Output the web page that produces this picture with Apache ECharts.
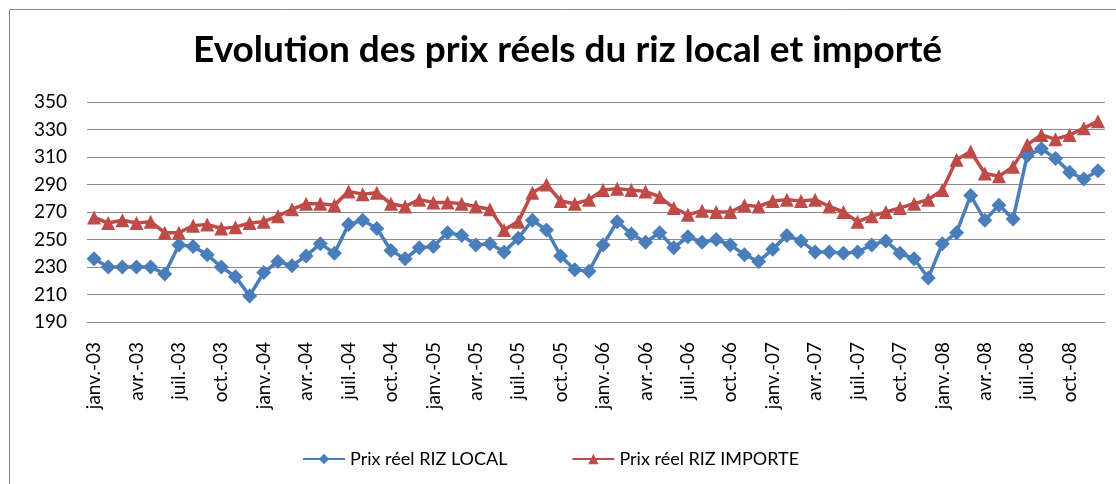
<!DOCTYPE html>
<html>
<head>
<meta charset="utf-8">
<title>Evolution des prix réels du riz</title>
<script src="https://cdn.jsdelivr.net/npm/echarts@6/dist/echarts.min.js"></script>
<style>
    html, body { margin: 0; padding: 0; background: #fff; }
    #chart { width: 1116px; height: 484px; }
</style>
</head>
<body>
<div id="chart"></div>
<script>
    // mois et années de l'axe des abscisses
    var monthNames = ["janv.", "févr.", "mars", "avr.", "mai", "juin", "juil.", "août", "sept.", "oct.", "nov.", "déc."];
    var yearSuffixes = ["03", "04", "05", "06", "07", "08"];

    // prix réels
    var prixLocal = [
        236, 230, 230, 230, 230, 225, 246, 245, 239, 230, 223, 209,
        226, 234, 231, 238, 247, 240, 261, 264, 258, 242, 236, 244,
        245, 255, 253, 246, 247, 241, 251, 264, 257, 238, 228, 227,
        246, 263, 254, 248, 255, 244, 252, 248, 250, 246, 239, 234,
        243, 253, 249, 241, 241, 240, 241, 246, 249, 240, 236, 222,
        247, 255, 282, 264, 275, 265, 311, 316, 309, 299, 294, 300
    ];
    var prixImporte = [
        266, 262, 264, 262, 263, 255, 255, 260, 261, 258, 259, 262,
        263, 267, 272, 276, 276, 275, 285, 283, 284, 276, 274, 279,
        277, 277, 276, 274, 272, 257, 263, 284, 290, 278, 276, 279,
        286, 287, 286, 285, 281, 273, 268, 271, 270, 270, 275, 274,
        278, 279, 278, 279, 274, 270, 263, 267, 270, 273, 276, 279,
        286, 308, 314, 298, 296, 303, 319, 326, 323, 326, 331, 336
    ];

    var categories = [];
    yearSuffixes.forEach(function (y) {
        monthNames.forEach(function (m) {
            categories.push(m + "-" + y);
        });
    });

    var font = "Lato, 'Open Sans', sans-serif";
    var chart = echarts.init(document.getElementById("chart"));

    chart.setOption({
        animation: false,
        backgroundColor: "#fff",
        textStyle: { fontFamily: font, color: "#000" },
        graphic: [{
            type: "rect",
            shape: { x: 9.5, y: 9.5, width: 1130, height: 500 },
            style: { fill: "none", stroke: "#8c8c8c", lineWidth: 1 },
            silent: true
        }],
        title: {
            text: "Evolution des prix réels du riz local et importé",
            left: 188,
            top: 27,
            textStyle: { fontFamily: font, fontSize: 37, fontWeight: "bold", color: "#000" }
        },
        legend: {
            bottom: 11,
            left: 297,
            itemWidth: 42,
            itemHeight: 13,
            itemGap: 64,
            textStyle: { fontFamily: font, fontSize: 18, color: "#000" },
            data: ["Prix réel RIZ LOCAL", "Prix réel RIZ IMPORTE"]
        },
        grid: { left: 87, right: 11, top: 102, bottom: 162 },
        xAxis: {
            type: "category",
            data: categories,
            boundaryGap: true,
            axisTick: { show: false },
            axisLine: { lineStyle: { color: "#868686", width: 1 } },
            axisLabel: {
                interval: 2,
                rotate: 90,
                margin: 20,
                fontFamily: font,
                fontSize: 19,
                color: "#000"
            }
        },
        yAxis: {
            type: "value",
            min: 190,
            max: 350,
            interval: 20,
            axisLine: { show: false },
            axisTick: { show: false },
            axisLabel: { fontFamily: font, fontSize: 19, color: "#000", margin: 20 },
            splitLine: { lineStyle: { color: "#8a8a8a", width: 1 } }
        },
        series: [
            {
                name: "Prix réel RIZ LOCAL",
                type: "line",
                data: prixLocal,
                symbol: "diamond",
                symbolSize: 15,
                showSymbol: true,
                showAllSymbol: true,
                color: "#4a7ebb",
                lineStyle: { width: 3.5, color: "#4a7ebb" },
                itemStyle: { color: "#4a7ebb" }
            },
            {
                name: "Prix réel RIZ IMPORTE",
                type: "line",
                data: prixImporte,
                symbol: "triangle",
                symbolSize: 14,
                showSymbol: true,
                showAllSymbol: true,
                color: "#be4b48",
                lineStyle: { width: 3.5, color: "#be4b48" },
                itemStyle: { color: "#be4b48" }
            }
        ]
    });
</script>
</body>
</html>
